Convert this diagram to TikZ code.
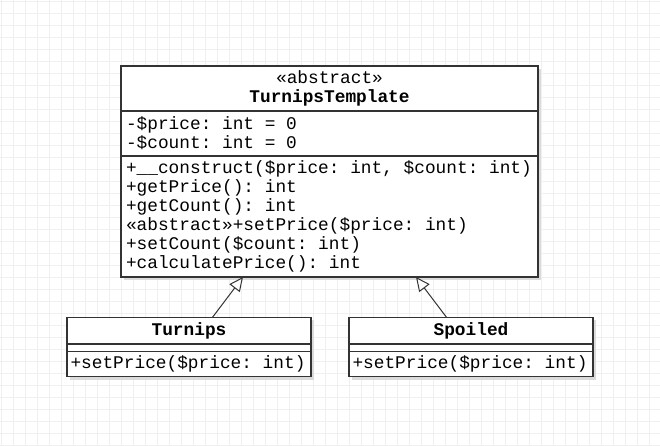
\documentclass[tikz,border=0pt]{standalone}
\usepackage{fontspec}
\setmainfont{Liberation Mono}
\usetikzlibrary{math,positioning,arrows.meta,shadows}
\newcommand*{\umlfont}{\fontsize{17.8}{19.1}\selectfont
  \spaceskip=10.68pt\relax \xspaceskip=10.68pt\relax}
\tikzset{%
  uml box/.style={draw=black!80, line width=1.1pt, fill=white, outer sep=0pt,
    inner xsep=5pt, inner ysep=2pt, align=left, execute at begin node=\umlfont,
    drop shadow={shadow xshift=3pt, shadow yshift=-3pt, fill=black!14, opacity=1}},
  uml head/.style={uml box, align=center},
  extends/.style={draw=black!80, line width=1pt,
    -{Triangle[open, fill=white, length=14pt, width=13pt]}},
  grid lines/.style={line width=0.8pt, color=black!6}
}

\begin{document}
\begin{tikzpicture}[x=1pt, y=-1pt, font=\umlfont]
    \tikzmath{
      \W=660; \H=445;
      \tx=121; \ty=66; \tw=417; % template box
      \sy=317.3; \sw=244;        % subclass boxes
      \ax=67; \bx=349;
    }
    \fill[white] (0,0) rectangle (\W,\H);
    \useasboundingbox (0,0) rectangle (\W,\H);
    % background grid
    \foreach \gx in {1,13,...,660} {
      \draw[grid lines] (\gx,0) -- (\gx,\H);
    }
    \foreach \gy in {1,13,...,445} {
      \draw[grid lines] (0,\gy) -- (\W,\gy);
    }
    % TurnipsTemplate:
    \node[uml head, anchor=north west, text width=\tw-10, minimum height=45]
      (tmplHead) at (\tx,\ty) {«abstract»\\\textbf{TurnipsTemplate}};
    \node[uml box, below=0pt of tmplHead, text width=\tw-10, minimum height=45]
      (tmplAttr) {-\$price: int = 0\\-\$count: int = 0};
    \node[uml box, below=0pt of tmplAttr, text width=\tw-10, minimum height=121]
      (tmplOps) {+\_\_construct(\$price: int, \$count: int)\\
                 +getPrice(): int\\
                 +getCount(): int\\
                 «abstract»+setPrice(\$price: int)\\
                 +setCount(\$count: int)\\
                 +calculatePrice(): int};
    % Turnips:
    \node[uml head, anchor=north west, text width=\sw-10, minimum height=26.7]
      (turnipsHead) at (\ax,\sy) {\textbf{Turnips}};
    \node[uml box, below=0pt of turnipsHead, minimum width=\sw, minimum height=7.7, inner ysep=0pt]
      (turnipsAttr) {};
    \node[uml box, below=0pt of turnipsAttr, inner xsep=3.5pt, text width=\sw-7, minimum height=25]
      (turnipsOps) {+setPrice(\$price: int)};
    % Spoiled:
    \node[uml head, anchor=north west, text width=\sw-10, minimum height=26.7]
      (spoiledHead) at (\bx,\sy) {\textbf{Spoiled}};
    \node[uml box, below=0pt of spoiledHead, minimum width=\sw, minimum height=7.7, inner ysep=0pt]
      (spoiledAttr) {};
    \node[uml box, below=0pt of spoiledAttr, inner xsep=3.5pt, text width=\sw-7, minimum height=25]
      (spoiledOps) {+setPrice(\$price: int)};
    % generalisation
    \draw[extends] ([xshift=23.5pt]turnipsHead.north) -- ([xshift=-86.5pt]tmplOps.south);
    \draw[extends] ([xshift=-24.5pt]spoiledHead.north) -- ([xshift=86.5pt]tmplOps.south);
  \end{tikzpicture}
\end{document}
